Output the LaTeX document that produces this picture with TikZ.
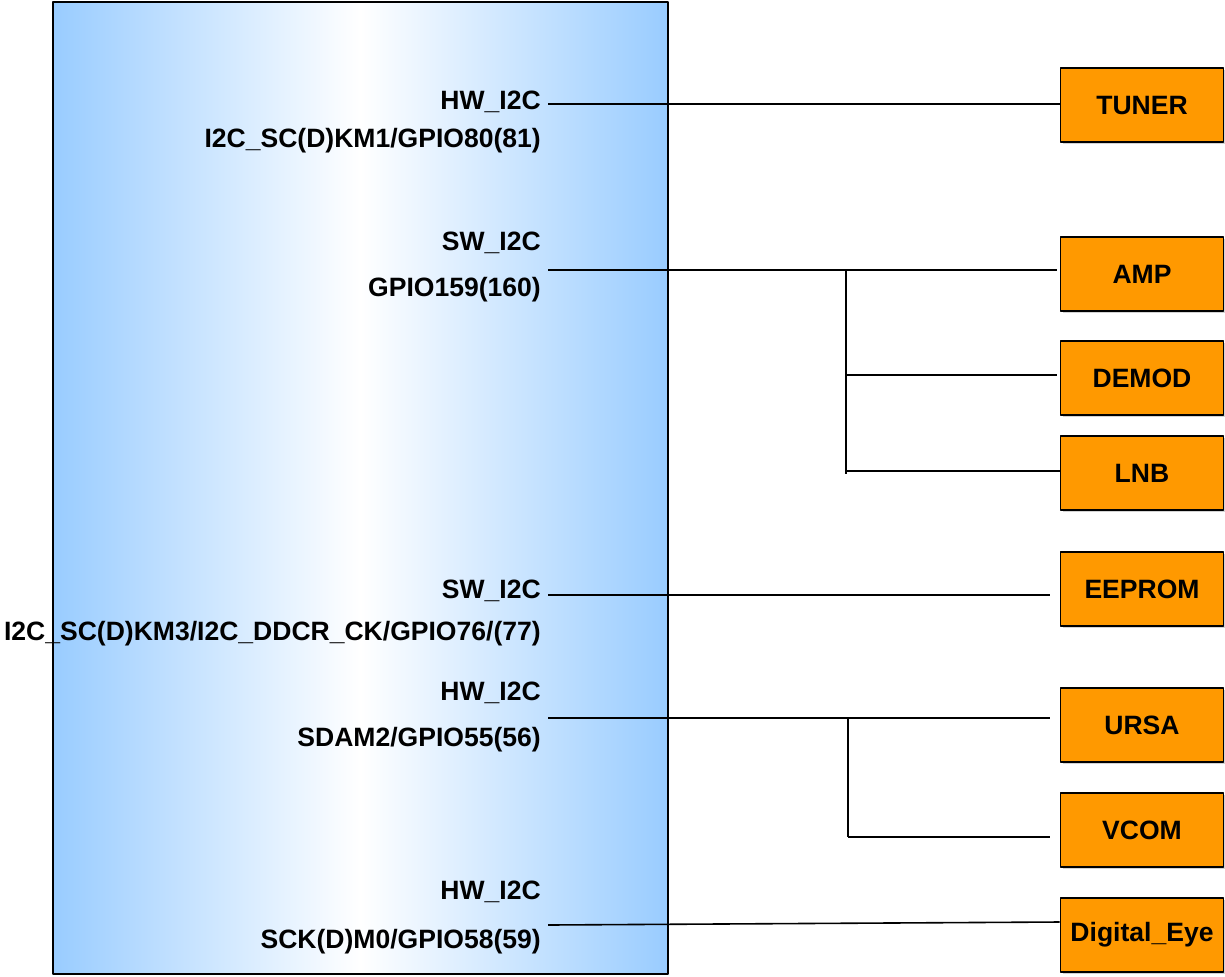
\documentclass[tikz,border=0pt]{standalone}
\usepackage{fontspec}
\setmainfont{Liberation Sans}
\usetikzlibrary{shadows}
\definecolor{chipblue}{RGB}{153,204,255}
\definecolor{devorange}{RGB}{255,153,0}
\newlength{\px}\setlength{\px}{0.75pt}
\tikzset{
  lbl/.style={font=\fontsize{19.9}{22}\selectfont\bfseries},
  dev/.style={lbl, draw=black, line width=1.2pt, fill=devorange, minimum width=163\px, minimum height=74\px,
    inner sep=0pt, drop shadow={opacity=0.35, shadow xshift=1.5pt, shadow yshift=-1.5pt}},
  pin/.style={lbl, anchor=east, inner sep=0pt},
  wire/.style={line width=1.2pt}
}
\begin{document}
\begin{tikzpicture}[x=0.75pt, y=-0.75pt, line join=round]
  \useasboundingbox (0,0) rectangle (1225,976);
  % chip
  \node[draw, line width=1.2pt, left color=chipblue, right color=chipblue, middle color=white,
    minimum width=615\px, minimum height=972\px, inner sep=0pt, anchor=north west] (chip) at (52,1) {};
  % pin labels
  \node[pin] (t1) at (541,102) {HW\_I2C};
  \node[pin] (t2) at (541,141) {I2C\_SC(D)KM1/GPIO80(81)};
  \node[pin] (t3) at (541,243) {SW\_I2C};
  \node[pin] (t4) at (541,290) {GPIO159(160)};
  \node[pin] (t5) at (541,591) {SW\_I2C};
  \node[pin] (t6) at (541,634) {I2C\_SC(D)KM3/I2C\_DDCR\_CK/GPIO76/(77)};
  \node[pin] (t7) at (541,693) {HW\_I2C};
  \node[pin] (t8) at (541,740) {SDAM2/GPIO55(56)};
  \node[pin] (t9) at (541,892) {HW\_I2C};
  \node[pin] (t10) at (541,942) {SCK(D)M0/GPIO58(59)};
  % devices
  \node[dev] (tuner) at (1142,105) {TUNER};
  \node[dev] (amp) at (1142,274) {AMP};
  \node[dev] (demod) at (1142,378) {DEMOD};
  \node[dev] (lnb) at (1142,473) {LNB};
  \node[dev] (eeprom) at (1142,589) {EEPROM};
  \node[dev] (ursa) at (1142,725) {URSA};
  \node[dev] (vcom) at (1142,830) {VCOM};
  \node[dev] (deye) at (1142,935) {Digital\_Eye};
  % bus points
  \coordinate (s1) at (548,104);
  \coordinate (s2) at (548,270);
  \coordinate (s3) at (548,595);
  \coordinate (s4) at (548,718);
  \coordinate (s5) at (548,925);
  \coordinate (b1) at (846,270);
  \coordinate (b2) at (846,375);
  \coordinate (b3) at (846,471);
  \coordinate (b4) at (848,718);
  \coordinate (b5) at (848,837);
  % wires
  \draw[wire] (s1) -- (s1 -| tuner.west);
  \draw[wire, shorten >=3\px] (s2) -- (s2 -| amp.west);
  \draw[wire] (b1) -- (846,474);
  \draw[wire, shorten >=3\px] (b2) -- (b2 -| demod.west);
  \draw[wire] (b3) -- (b3 -| lnb.west);
  \draw[wire, shorten >=10\px] (s3) -- (s3 -| eeprom.west);
  \draw[wire, shorten >=10\px] (s4) -- (s4 -| ursa.west);
  \draw[wire] (b4) -- (b5);
  \draw[wire, shorten >=10\px] (b5) -- (b5 -| vcom.west);
  \draw[wire] (s5) -- (deye.west |- 0,922);
\end{tikzpicture}
\end{document}
